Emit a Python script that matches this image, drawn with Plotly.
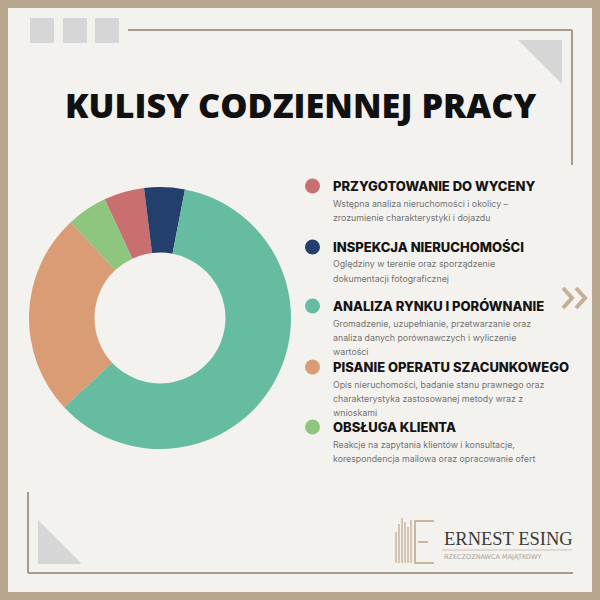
import plotly.graph_objects as go

# ---- data ----
categories = [
    "PRZYGOTOWANIE DO WYCENY",
    "INSPEKCJA NIERUCHOMOŚCI",
    "ANALIZA RYNKU I PORÓWNANIE",
    "PISANIE OPERATU SZACUNKOWEGO",
    "OBSŁUGA KLIENTA",
]
values = [5, 5, 60, 25, 5]
colors = ["#c96f70", "#233f6b", "#66bca1", "#d99c75", "#8ec57f"]
descriptions = [
    ["Wstępna analiza nieruchomości i okolicy –", "zrozumienie charakterystyki i dojazdu"],
    ["Oględziny w terenie oraz sporządzenie", "dokumentacji fotograficznej"],
    ["Gromadzenie, uzupełnianie, przetwarzanie oraz", "analiza danych porównawczych i wyliczenie", "wartości"],
    ["Opis nieruchomości, badanie stanu prawnego oraz", "charakterystyka zastosowanej metody wraz z", "wnioskami"],
    ["Reakcje na zapytania klientów i konsultacje,", "korespondencja mailowa oraz opracowanie ofert"],
]
title_text = "KULISY CODZIENNEJ PRACY"
brand_name = "ERNEST ESING"
brand_sub = "RZECZOZNAWCA MAJĄTKOWY"

W = H = 600
def px(x):
    return x / W
def py(y):
    return 1 - y / H

BG = "#f4f2ee"
TAN = "#b9a68e"
LINE = "#a99a8a"
GREY = "#d6d6d6"

fig = go.Figure()
fig.add_trace(go.Pie(
    labels=categories, values=values, sort=False, direction="clockwise",
    rotation=-25, hole=0.5, marker=dict(colors=colors, line=dict(width=0)),
    textinfo="none", hoverinfo="label+percent", showlegend=False,
    domain=dict(x=[px(29), px(291)], y=[py(449), py(187)]),
))

shapes = []
# frame border
shapes.append(dict(type="rect", xref="paper", yref="paper", x0=0, x1=1, y0=0, y1=1,
                   line=dict(width=0), fillcolor=TAN, layer="below"))
shapes.append(dict(type="rect", xref="paper", yref="paper", x0=px(8), x1=px(592), y0=py(592), y1=py(8),
                   line=dict(width=0), fillcolor=BG, layer="below"))
# grey squares
for x0 in [30, 63, 95]:
    shapes.append(dict(type="rect", xref="paper", yref="paper", x0=px(x0), x1=px(x0 + 24),
                       y0=py(43), y1=py(18), line=dict(width=0), fillcolor=GREY, layer="below"))
# top lines
shapes.append(dict(type="line", xref="paper", yref="paper", x0=px(128), x1=px(572), y0=py(30), y1=py(30),
                   line=dict(color=LINE, width=2), layer="below"))
shapes.append(dict(type="line", xref="paper", yref="paper", x0=px(572), x1=px(572), y0=py(30), y1=py(165),
                   line=dict(color=LINE, width=2), layer="below"))
# top right triangle
shapes.append(dict(type="path", xref="paper", yref="paper",
                   path=f"M {px(518)} {py(40)} L {px(562)} {py(40)} L {px(562)} {py(84)} Z",
                   line=dict(width=0), fillcolor=GREY, layer="below"))
# bottom left lines
shapes.append(dict(type="line", xref="paper", yref="paper", x0=px(28), x1=px(28), y0=py(492), y1=py(573),
                   line=dict(color=LINE, width=2), layer="below"))
shapes.append(dict(type="line", xref="paper", yref="paper", x0=px(28), x1=px(573), y0=py(573), y1=py(573),
                   line=dict(color=LINE, width=2), layer="below"))
shapes.append(dict(type="path", xref="paper", yref="paper",
                   path=f"M {px(38)} {py(520)} L {px(38)} {py(564)} L {px(82)} {py(564)} Z",
                   line=dict(width=0), fillcolor=GREY, layer="below"))
# chevrons
for cx in [563, 576]:
    shapes.append(dict(type="path", xref="paper", yref="paper",
                       path=f"M {px(cx)} {py(288)} L {px(cx + 9)} {py(298)} L {px(cx)} {py(308)}",
                       line=dict(color="#c6b095", width=4), layer="above"))
# logo bars
LOGO = "#c9b69d"
for bx, top in [(396, 532), (399, 524), (402, 518), (405, 522), (408, 527), (411, 520)]:
    shapes.append(dict(type="line", xref="paper", yref="paper", x0=px(bx), x1=px(bx), y0=py(563), y1=py(top),
                       line=dict(color=LOGO, width=1.5)))
# logo E
shapes.append(dict(type="path", xref="paper", yref="paper",
                   path=f"M {px(434)} {py(521)} L {px(415)} {py(521)} L {px(415)} {py(563)} L {px(434)} {py(563)}",
                   line=dict(color=LOGO, width=2)))
shapes.append(dict(type="line", xref="paper", yref="paper", x0=px(418), x1=px(428), y0=py(542), y1=py(542),
                   line=dict(color=LOGO, width=2)))
shapes.append(dict(type="line", xref="paper", yref="paper", x0=px(442), x1=px(572), y0=py(550), y1=py(550),
                   line=dict(color="#c8c0b5", width=1)))

annotations = []
annotations.append(dict(text=title_text, x=0.5, y=py(104), xref="paper", yref="paper",
                        showarrow=False, xanchor="center", yanchor="middle",
                        font=dict(family="Open Sans", size=34.3, weight=800, color="#111111")))

heading_y = [186, 247, 306, 367, 427]
for cat, col, desc, hy in zip(categories, colors, descriptions, heading_y):
    shapes.append(dict(type="circle", xref="paper", yref="paper",
                       x0=px(305), x1=px(320), y0=py(hy + 7.5), y1=py(hy - 7.5),
                       line=dict(width=0), fillcolor=col))
    annotations.append(dict(text=cat, x=px(331), y=py(hy), xref="paper", yref="paper",
                            showarrow=False, xanchor="left", yanchor="middle",
                            font=dict(family="Inter", size=13, weight=800, color="#141414")))
    for i, line in enumerate(desc):
        annotations.append(dict(text=line, x=px(331), y=py(hy + 17 + 14 * i), xref="paper", yref="paper",
                                showarrow=False, xanchor="left", yanchor="middle", align="left",
                                font=dict(family="Inter", size=8.8, color="#727272")))

annotations.append(dict(text=brand_name, x=px(442), y=py(539), xref="paper", yref="paper",
                        showarrow=False, xanchor="left", yanchor="middle",
                        font=dict(family="Liberation Serif", size=18.5, color="#3a3a3a")))
annotations.append(dict(text=brand_sub, x=px(442), y=py(557), xref="paper", yref="paper",
                        showarrow=False, xanchor="left", yanchor="middle",
                        font=dict(family="DejaVu Sans", size=6.5, color="#a8a29a")))

fig.update_layout(
    width=W, height=H, margin=dict(l=0, r=0, t=0, b=0),
    paper_bgcolor=BG, plot_bgcolor=BG,
    shapes=shapes, annotations=annotations,
)
fig.write_html("out.html")
